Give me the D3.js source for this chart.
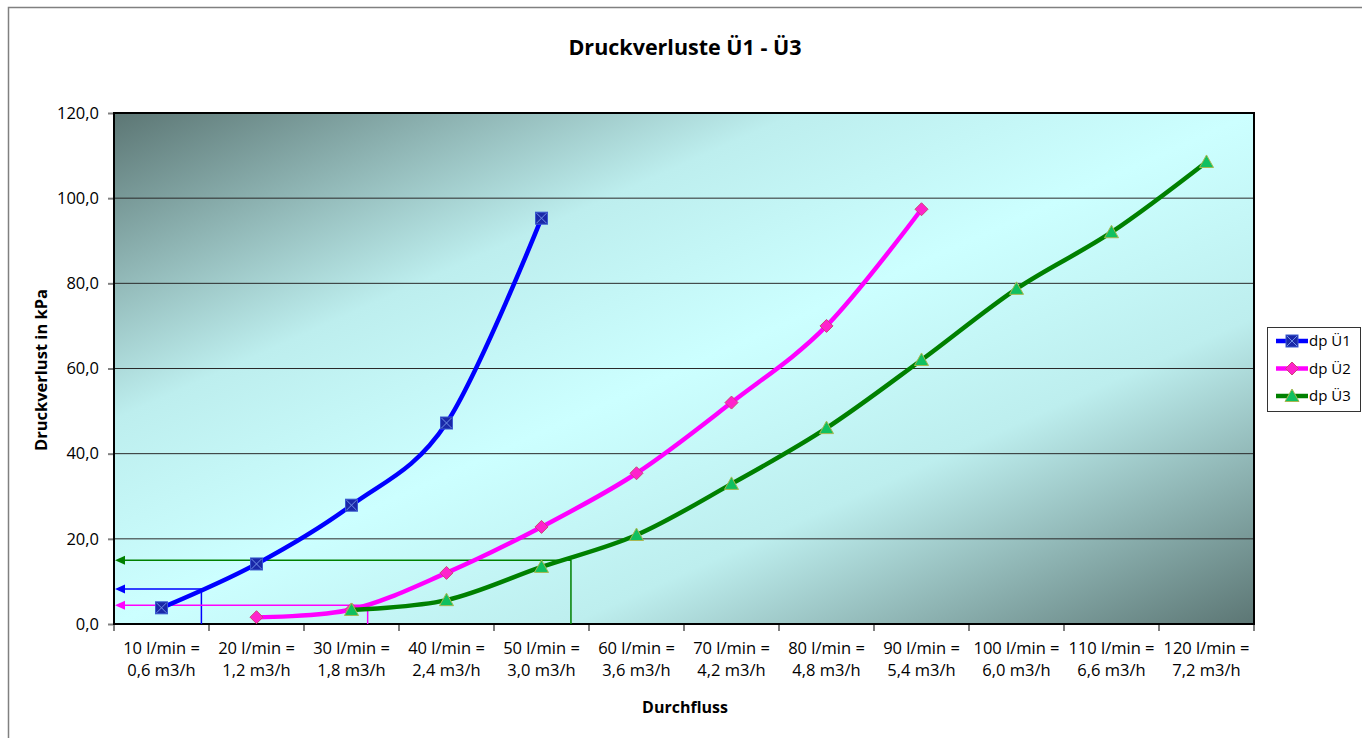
<!DOCTYPE html>
<html>
<head>
<meta charset="utf-8">
<script src="https://cdn.jsdelivr.net/npm/d3@7"></script>
<style>
  body { margin: 0; background: #fff; }
  text { font-family: "Open Sans", "Noto Sans", sans-serif; fill: #000; }
</style>
</head>
<body>
<svg class="chart"></svg>
<script>
// categories (two-line tick labels)
var flowLpm = ["10 l/min =", "20 l/min =", "30 l/min =", "40 l/min =", "50 l/min =", "60 l/min =",
               "70 l/min =", "80 l/min =", "90 l/min =", "100 l/min =", "110 l/min =", "120 l/min ="];
var flowM3h = ["0,6 m3/h", "1,2 m3/h", "1,8 m3/h", "2,4 m3/h", "3,0 m3/h", "3,6 m3/h",
               "4,2 m3/h", "4,8 m3/h", "5,4 m3/h", "6,0 m3/h", "6,6 m3/h", "7,2 m3/h"];

// series values, kPa (null = no point)
var dpU1 = [3.8, 14.1, 27.9, 47.2, 95.3, null, null, null, null, null, null, null];
var dpU2 = [null, 1.6, 3.4, 12.0, 22.8, 35.4, 52.0, 70.0, 97.4, null, null, null];
var dpU3 = [null, null, 3.3, 5.6, 13.4, 20.9, 32.9, 46.0, 62.0, 78.7, 92.0, 108.5];

var yTicks = [0, 20, 40, 60, 80, 100, 120];

// reading lines (flow as category position, dp in kPa)
var refName = ["dp Ü1", "dp Ü2", "dp Ü3"];
var refFlowPos = [0.92, 2.67, 4.81];
var refDp = [8.2, 4.4, 15.0];

var svgWidth = 1362, svgHeight = 738;
var margin = { top: 113, right: 108, bottom: 114, left: 114 };
var width = svgWidth - margin.left - margin.right;
var height = svgHeight - margin.top - margin.bottom;

var svg = d3.select(".chart")
    .attr("width", svgWidth)
    .attr("height", svgHeight);

// outer chart frame
svg.append("rect")
    .attr("x", 8.5).attr("y", 7.5)
    .attr("width", svgWidth).attr("height", svgHeight)
    .attr("fill", "none")
    .attr("stroke", "#808080")
    .attr("stroke-width", 1.5);

// diagonal background gradient
var grad = svg.append("defs").append("linearGradient")
    .attr("id", "bg")
    .attr("x1", 0).attr("y1", 0).attr("x2", 1).attr("y2", 1);
[[0, "#5c7674"], [0.3, "#bdeeee"], [0.5, "#ccffff"], [0.7, "#bdeeee"], [1, "#5c7674"]]
    .forEach(function(s) {
        grad.append("stop").attr("offset", s[0]).attr("stop-color", s[1]);
    });

var g = svg.append("g")
    .attr("transform", "translate(" + margin.left + "," + margin.top + ")");

var x = d3.scaleBand()
    .domain(flowLpm)
    .range([0, width])
    .padding(0);

// same axis as a continuous category position, for the reading lines
var xPos = d3.scaleLinear()
    .domain([0, flowLpm.length])
    .range([0, width]);

var y = d3.scaleLinear()
    .domain([0, 120])
    .range([height, 0]);

g.append("rect")
    .attr("width", width)
    .attr("height", height)
    .attr("fill", "url(#bg)");

// gridlines
g.selectAll(".grid")
    .data(yTicks.slice(1))
    .enter()
    .append("line")
    .attr("x1", 0).attr("x2", width)
    .attr("y1", function(d) { return y(d); })
    .attr("y2", function(d) { return y(d); })
    .attr("stroke", "#2a2a2a")
    .attr("stroke-width", 1);

// y axis
var fmt = function(d) { return d3.format(".1f")(d).replace(".", ","); };
var yAxis = g.append("g")
    .call(d3.axisLeft(y).tickValues(yTicks).tickFormat(fmt).tickSize(6).tickPadding(9));
yAxis.select(".domain").remove();
yAxis.selectAll(".tick line").attr("stroke", "#808080").attr("stroke-width", 2);
yAxis.selectAll("text")
    .style("font-size", "16.5px")
    .style("font-family", "'Open Sans', sans-serif");

// x axis: ticks at category boundaries
g.selectAll(".xtick")
    .data(d3.range(flowLpm.length + 1))
    .enter()
    .append("line")
    .attr("x1", function(d) { return xPos(d); })
    .attr("x2", function(d) { return xPos(d); })
    .attr("y1", height).attr("y2", height + 7)
    .attr("stroke", "#808080")
    .attr("stroke-width", 2);

var xl = g.selectAll(".xlabel")
    .data(flowLpm)
    .enter()
    .append("text")
    .attr("text-anchor", "middle")
    .style("font-size", "16.5px")
    .attr("x", function(d) { return x(d) + x.bandwidth() / 2; })
    .attr("y", height + 30);
xl.append("tspan").text(function(d) { return d; });
xl.append("tspan")
    .attr("x", function(d) { return x(d) + x.bandwidth() / 2; })
    .attr("dy", 22)
    .text(function(d, i) { return flowM3h[i]; });

// plot frame
g.append("rect")
    .attr("width", width)
    .attr("height", height)
    .attr("fill", "none")
    .attr("stroke", "#000")
    .attr("stroke-width", 2);

// reading lines with arrows
var refColors = ["#0000ff", "#ff00ff", "#008000"];
var refG = g.selectAll(".ref")
    .data(refDp)
    .enter()
    .append("g");
refG.append("polyline")
    .attr("points", function(d, i) {
        return [[6, y(d)], [xPos(refFlowPos[i]), y(d)], [xPos(refFlowPos[i]), height]].join(" ");
    })
    .attr("fill", "none")
    .attr("stroke", function(d, i) { return refColors[i]; })
    .attr("stroke-width", 1.5);
refG.append("path")
    .attr("d", function(d) { return "M1," + y(d) + "L11," + (y(d) - 4.5) + "L11," + (y(d) + 4.5) + "Z"; })
    .attr("fill", function(d, i) { return refColors[i]; });

// series
var series = [
    { name: "dp Ü1", values: dpU1, color: "#0000ff", marker: "square" },
    { name: "dp Ü2", values: dpU2, color: "#ff00ff", marker: "diamond" },
    { name: "dp Ü3", values: dpU3, color: "#008000", marker: "triangle" }
];

var line = d3.line()
    .defined(function(d) { return d != null; })
    .x(function(d, i) { return x(flowLpm[i]) + x.bandwidth() / 2; })
    .y(function(d) { return y(d); })
    .curve(d3.curveCardinal.tension(0));

function drawMarker(sel, type) {
    if (type == "square") {
        sel.append("rect")
            .attr("x", -6).attr("y", -6).attr("width", 12).attr("height", 12)
            .attr("fill", "#1a28a8").attr("stroke", "#3a5ad0").attr("stroke-width", 1);
        sel.append("path")
            .attr("d", "M-5,-5L5,5M-5,5L5,-5")
            .attr("stroke", "#6f8fe6").attr("stroke-width", 1);
    } else if (type == "diamond") {
        sel.append("path")
            .attr("d", "M0,-6.5L6.5,0L0,6.5L-6.5,0Z")
            .attr("fill", "#ff22cc").attr("stroke", "#cc4477").attr("stroke-width", 1);
    } else {
        sel.append("path")
            .attr("d", "M0,-7L7,5.5L-7,5.5Z")
            .attr("fill", "#10c060").attr("stroke", "#a8b850").attr("stroke-width", 1);
    }
}

series.forEach(function(s) {
    g.append("path")
        .datum(s.values)
        .attr("fill", "none")
        .attr("stroke", s.color)
        .attr("stroke-width", 4.5)
        .attr("stroke-linejoin", "round")
        .attr("d", line);

    g.selectAll(".m-" + s.marker)
        .data(s.values.map(function(v, i) { return { v: v, i: i }; })
            .filter(function(d) { return d.v != null; }))
        .enter()
        .append("g")
        .attr("transform", function(d) {
            return "translate(" + (x(flowLpm[d.i]) + x.bandwidth() / 2) + "," + y(d.v) + ")";
        })
        .each(function() { drawMarker(d3.select(this), s.marker); });
});

// titles
svg.append("text")
    .attr("x", 685).attr("y", 55)
    .attr("text-anchor", "middle")
    .style("font-size", "21.5px")
    .style("font-weight", "bold")
    .text("Druckverluste Ü1 - Ü3");

svg.append("text")
    .attr("x", 685).attr("y", 713)
    .attr("text-anchor", "middle")
    .style("font-size", "16px")
    .style("font-weight", "bold")
    .text("Durchfluss");

svg.append("text")
    .attr("transform", "translate(47,370) rotate(-90)")
    .attr("text-anchor", "middle")
    .style("font-size", "16.5px")
    .style("font-weight", "bold")
    .text("Druckverlust in kPa");

// legend
var legend = svg.append("g")
    .attr("transform", "translate(1267,327)");
legend.append("rect")
    .attr("x", 0.5).attr("y", 0.5)
    .attr("width", 93).attr("height", 84)
    .attr("fill", "#fff")
    .attr("stroke", "#333")
    .attr("stroke-width", 1);
var item = legend.selectAll(".item")
    .data(series)
    .enter()
    .append("g")
    .attr("transform", function(d, i) { return "translate(0," + (14 + i * 27.5) + ")"; });
item.append("line")
    .attr("x1", 9).attr("x2", 41)
    .attr("stroke", function(d) { return d.color; })
    .attr("stroke-width", 4.5);
item.append("g")
    .attr("transform", "translate(25,0)")
    .each(function(d) { drawMarker(d3.select(this), d.marker); });
item.append("text")
    .attr("x", 42).attr("dy", "0.35em")
    .style("font-size", "15px")
    .text(function(d) { return d.name; });
</script>
</body>
</html>
